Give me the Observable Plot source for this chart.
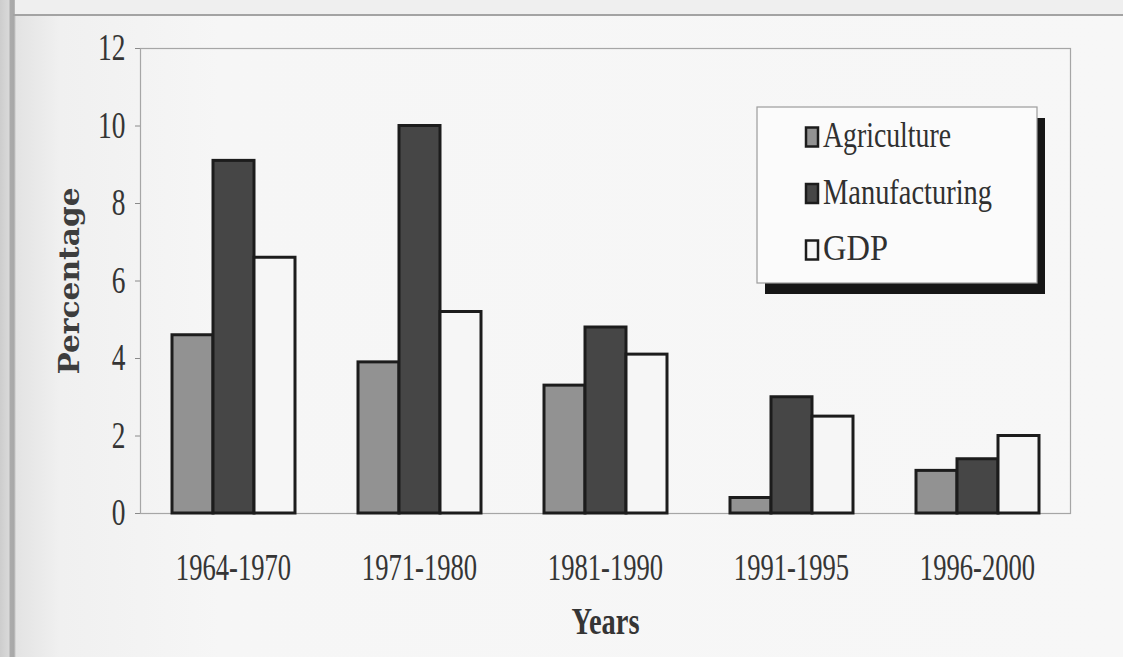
<!DOCTYPE html>
<html>
<head>
<meta charset="utf-8">
<script src="https://cdn.jsdelivr.net/npm/d3@7"></script>
<script src="https://cdn.jsdelivr.net/npm/@observablehq/plot@0.6"></script>
<style>
  html, body { margin: 0; padding: 0; background: #f5f5f5; }
  #page {
    position: relative; width: 1123px; height: 657px; overflow: hidden;
    background: linear-gradient(to right, #cdcdcd 0px, #d9d9d9 9px, #ababab 10px, #a8a8a8 14px, #e3e3e3 16px, #f0f0f0 60px, #f6f6f6 220px, #f7f7f7 100%);
  }
  #topline { position: absolute; left: 13px; right: 0; top: 14px; height: 2px; background: #a3a3a3; }
  #topband { position: absolute; left: 15px; right: 0; top: 0; height: 14px; background: #efefef; }
  #chart { position: absolute; left: 0; top: 0; }
  #chart svg { display: block; }
</style>
</head>
<body>
<div id="page"><div id="topband"></div><div id="topline"></div><div id="chart"></div></div>
<script>
// Growth rates (%) by period for agriculture, manufacturing and GDP
const periods = ["1964-1970", "1971-1980", "1981-1990", "1991-1995", "1996-2000"];
const seriesNames = ["Agriculture", "Manufacturing", "GDP"];
const agriculture = [4.6, 3.9, 3.3, 0.4, 1.1];
const manufacturing = [9.1, 10.0, 4.8, 3.0, 1.4];
const gdp = [6.6, 5.2, 4.1, 2.5, 2.0];
const yTicks = [0, 2, 4, 6, 8, 10, 12];
const fills = ["#929292", "#464646", "#f6f6f6"];

const seriesValues = [agriculture, manufacturing, gdp];
const rows = periods.flatMap((period, i) =>
  seriesNames.map((series, j) => ({period, series, value: seriesValues[j][i]}))
);

const chart = Plot.plot({
  width: 1123,
  height: 657,
  marginLeft: 138,
  marginRight: 51,
  marginTop: 48,
  marginBottom: 144,
  style: {background: "transparent", fontFamily: "'Liberation Serif', serif", fontSize: "37px", color: "#353535"},
  // each period gets an equal slice of the frame; the gap between groups comes from the inner x padding
  fx: {domain: periods, paddingInner: 0, paddingOuter: 0, axis: "bottom", tickSize: 0, tickPadding: 40, label: "Years", labelAnchor: "center", labelOffset: 120},
  x: {domain: seriesNames, axis: null, paddingInner: 0, paddingOuter: 0.724},
  y: {domain: [0, 12], ticks: yTicks, tickSize: 5, tickPadding: 10, tickFormat: d => String(d), label: "Percentage", labelAnchor: "center", labelOffset: 81},
  color: {domain: seriesNames, range: fills},
  marks: [
    Plot.frame({stroke: "#a6a6a6", strokeWidth: 1.2, facet: "super"}),
    Plot.barY(rows, {fx: "period", x: "series", y: "value", fill: "series", stroke: "#1c1c1c", strokeWidth: 3})
  ]
});

document.getElementById("chart").appendChild(chart);
const svg = d3.select(chart.tagName.toLowerCase() === "svg" ? chart : chart.querySelector("svg"));

// Narrow the serif lettering to the tight, condensed face of the original print
function condense(sel, opts) {
  sel.each(function () {
    const t = d3.select(this);
    if (opts.size) t.attr("font-size", opts.size);
    if (opts.weight) t.attr("font-weight", opts.weight);
    if (opts.family) t.attr("font-family", opts.family);
    if (opts.fill) t.attr("fill", opts.fill);
    const w = this.getComputedTextLength();
    const target = opts.width != null ? opts.width : w * opts.k;
    t.attr("textLength", target).attr("lengthAdjust", "spacingAndGlyphs");
  });
}

condense(svg.selectAll('[aria-label="y-axis tick label"] text'), {k: 0.74, size: 37});
condense(svg.selectAll('[aria-label="fx-axis tick label"] text'), {k: 0.70, size: 38});
svg.selectAll('[aria-label="fx-axis label"] text').text("Years");
condense(svg.selectAll('[aria-label="fx-axis label"] text'), {width: 68, size: 38, weight: "bold"});
svg.selectAll('[aria-label="y-axis label"] text').text("Percentage");
condense(svg.selectAll('[aria-label="y-axis label"] text'), {width: 187, size: 28, weight: "bold", family: "'DejaVu Serif', serif", fill: "#3d3d3d"});
svg.selectAll('[aria-label="y-axis tick"] path, [aria-label="y-axis tick"]').attr("stroke", "#8a8a8a");

// Legend box with drop shadow
const legend = svg.append("g").attr("transform", "translate(757,107)").attr("text-anchor", "start");
legend.append("rect").attr("x", 8).attr("y", 11).attr("width", 280).attr("height", 176).attr("fill", "#161616");
legend.append("rect").attr("x", 0).attr("y", 0).attr("width", 280).attr("height", 176)
  .attr("fill", "#fbfbfb").attr("stroke", "#9c9c9c").attr("stroke-width", 1.2);
const legendWidths = [128, 169, 65];
seriesNames.forEach((name, i) => {
  const cy = 30 + i * 56.5;
  const row = legend.append("g");
  row.append("rect").attr("x", 49).attr("y", cy - 9.5).attr("width", 12).attr("height", 19)
    .attr("fill", fills[i]).attr("stroke", "#1c1c1c").attr("stroke-width", 2.5);
  const txt = row.append("text").attr("x", 66).attr("y", cy + 10).text(name)
    .attr("text-anchor", "start")
    .attr("font-family", "'Liberation Serif', serif").attr("fill", "#303030");
  condense(txt, {width: legendWidths[i], size: 35});
});
</script>
</body>
</html>
